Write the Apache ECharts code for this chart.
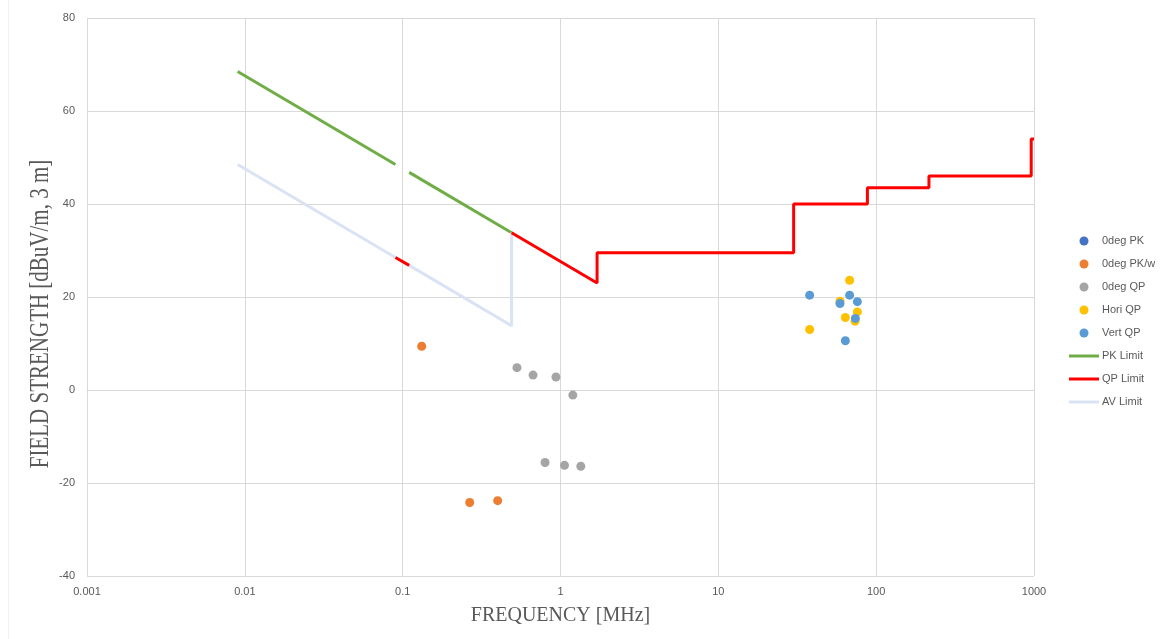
<!DOCTYPE html>
<html>
<head>
<meta charset="utf-8">
<script src="https://cdn.jsdelivr.net/npm/echarts@6/dist/echarts.min.js"></script>
<style>
html,body{margin:0;padding:0;background:#fff;}
#chart{width:1168px;height:639px;}
</style>
</head>
<body>
<div id="chart"></div>
<script>
// ---- data ----
var xTickLabels = ['0.001', '0.01', '0.1', '1', '10', '100', '1000'];
var yTicks = [-40, -20, 0, 20, 40, 60, 80];
var xTitle = 'FREQUENCY [MHz]';
var yTitle = 'FIELD STRENGTH [dBuV/m, 3 m]';

var deg0PK = [];
var deg0PKw = [[0.132, 9.4], [0.266, -24.2], [0.400, -23.8]];
var deg0QP = [[0.530, 4.8], [0.670, 3.2], [0.936, 2.8], [1.197, -1.1], [0.798, -15.6], [1.060, -16.2], [1.345, -16.4]];
var horiQP = [[67.9, 23.6], [59.0, 19.1], [76.0, 16.8], [63.8, 15.6], [73.5, 14.8], [37.9, 13.0]];
var vertQP = [[37.9, 20.4], [67.9, 20.4], [59.0, 18.6], [76.0, 19.0], [73.8, 15.4], [63.8, 10.6]];

var pkLimitA = [[0.009, 68.5], [0.09, 48.5]];
var pkLimitB = [[0.11, 46.8], [0.49, 33.8]];
var qpLimitA = [[0.09, 28.5], [0.11, 26.8]];
var qpLimitB = [[0.49, 33.8], [1.705, 23.0], [1.705, 29.5], [30, 29.5], [30, 40], [88, 40], [88, 43.5], [216, 43.5], [216, 46], [960, 46], [960, 54], [1000, 54]];
var avLimitA = [[0.009, 48.5], [0.09, 28.5]];
var avLimitB = [[0.11, 26.8], [0.49, 13.8], [0.49, 33.8]];

// ---- chart ----
var txt = '#595959';
var sans = 'Liberation Sans';
var serif = 'Liberation Serif';
var chart = echarts.init(document.getElementById('chart'));

function scatter(name, data, color) {
  return { name: name, type: 'scatter', data: data, symbolSize: 9,
    itemStyle: { color: color, opacity: 1 }, z: 3 };
}
function line(name, data, color, z) {
  return { name: name, type: 'line', data: data, symbol: 'none', showSymbol: false,
    lineStyle: { color: color, width: 3 }, itemStyle: { color: color }, z: z, animation: false };
}
var lineIcon = 'path://M0,0L30,0L30,3L0,3Z';

chart.setOption({
  animation: false,
  backgroundColor: '#fff',
  grid: { left: 87, right: 134, top: 18, bottom: 63, containLabel: false },
  xAxis: {
    type: 'log', logBase: 10, min: 0.001, max: 1000,
    name: xTitle, nameLocation: 'middle', nameGap: 30,
    nameTextStyle: { fontFamily: serif, fontSize: 20, color: txt },
    axisLine: { show: true, lineStyle: { color: '#D9D9D9', width: 1 } },
    axisTick: { show: false },
    minorTick: { show: false },
    axisLabel: { color: txt, fontFamily: sans, fontSize: 11, margin: 10,
      formatter: function (v) {
        var e = Math.round(Math.log10(v));
        return xTickLabels[e + 3] || '';
      } },
    splitLine: { show: true, lineStyle: { color: '#D9D9D9', width: 1 } }
  },
  yAxis: {
    type: 'value', min: yTicks[0], max: yTicks[yTicks.length - 1], interval: 20,
    axisLine: { show: false }, axisTick: { show: false },
    axisLabel: { color: txt, fontFamily: sans, fontSize: 11, margin: 12 },
    splitLine: { show: true, lineStyle: { color: '#D9D9D9', width: 1 } }
  },
  legend: {
    orient: 'vertical', left: 1069, top: 234, padding: 0,
    itemWidth: 30, itemHeight: 9, itemGap: 9,
    textStyle: { color: txt, fontFamily: sans, fontSize: 11, lineHeight: 14, padding: [0, 0, 0, -2] },
    data: [
      { name: '0deg PK', icon: 'circle' },
      { name: '0deg PK/w', icon: 'circle' },
      { name: '0deg QP', icon: 'circle' },
      { name: 'Hori QP', icon: 'circle' },
      { name: 'Vert QP', icon: 'circle' },
      { name: 'PK Limit', icon: lineIcon },
      { name: 'QP Limit', icon: lineIcon },
      { name: 'AV Limit', icon: lineIcon }
    ]
  },
  graphic: [
    { type: 'line', shape: { x1: 8.5, y1: 0, x2: 8.5, y2: 639 }, style: { stroke: '#F2F2F2', lineWidth: 1 } },
    { type: 'text', x: 41, y: 314, rotation: Math.PI / 2, scaleY: 1.28,
      style: { text: yTitle, font: '21px "Liberation Serif"', fill: txt,
        textAlign: 'center', textVerticalAlign: 'middle' } }
  ],
  series: [
    scatter('0deg PK', deg0PK, '#4472C4'),
    scatter('0deg PK/w', deg0PKw, '#ED7D31'),
    scatter('0deg QP', deg0QP, '#A5A5A5'),
    scatter('Hori QP', horiQP, '#FFC000'),
    scatter('Vert QP', vertQP, '#5B9BD5'),
    line('PK Limit', pkLimitA, '#70AD47', 4),
    line('PK Limit', pkLimitB, '#70AD47', 4),
    line('AV Limit', avLimitA, '#DAE3F3', 4),
    line('AV Limit', avLimitB, '#DAE3F3', 4),
    line('QP Limit', qpLimitA, '#FF0000', 5),
    line('QP Limit', qpLimitB, '#FF0000', 5)
  ]
});
</script>
</body>
</html>
